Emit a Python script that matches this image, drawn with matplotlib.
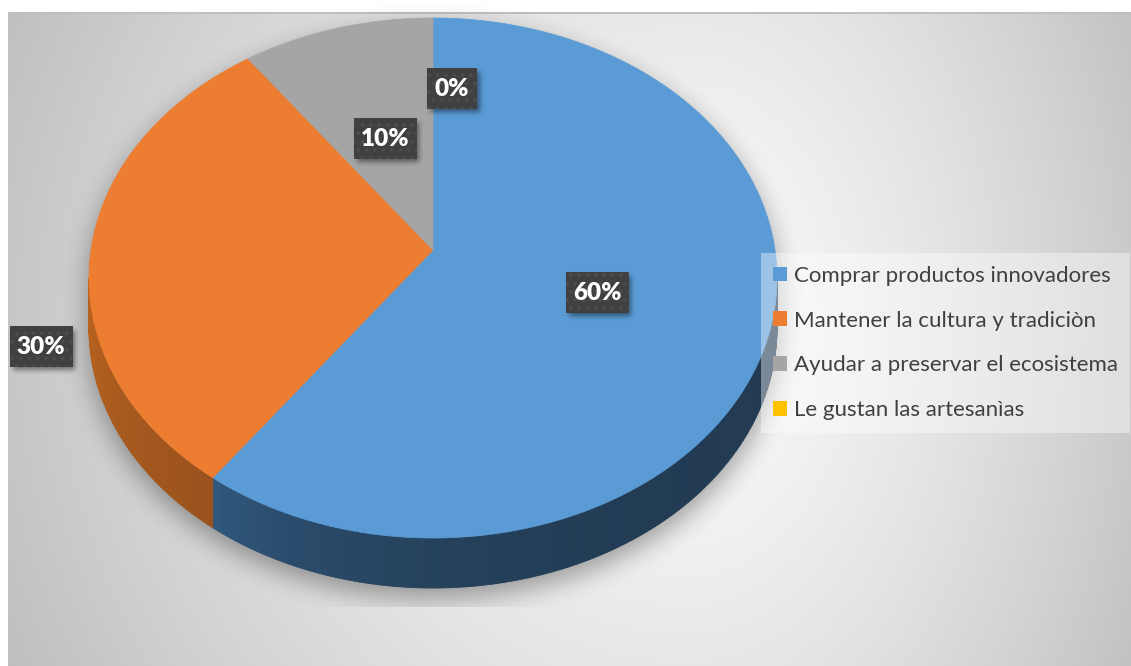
import numpy as np
import matplotlib
matplotlib.use("Agg")
import matplotlib.pyplot as plt
from matplotlib.patches import Polygon, Rectangle, Patch
from matplotlib.path import Path
from matplotlib.colors import to_rgb

plt.rcParams['font.family'] = ['Lato', 'DejaVu Sans']

# survey answers and their shares (%)
categories = ["Comprar productos innovadores",
              "Mantener la cultura y tradiciòn",
              "Ayudar a preservar el ecosistema",
              "Le gustan las artesanìas"]
shares = [60, 30, 10, 0]
top_colors = ['#5b9bd5', '#ed7d31', '#a5a5a5', '#ffc000']
# side wall colours: (dark end, light end)
side_colors = [('#223b53', '#30587d'), ('#9a521d', '#b8631f'),
               ('#5e5e5e', '#6e6e6e'), ('#9a7400', '#b08500')]
# data label boxes (centre x, centre y) in pixels
label_pos = [(597, 292), (41, 346), (385, 138), (452, 88)]

W, H = 1131, 666
CX, CY = 433, 250          # pie apex on screen
RX, RY, PERSP = 342, 257, 0.1077
DEPTH = 50


def project(theta):
    # theta in degrees, clockwise from 12 o'clock on the pie disc
    t = np.radians(theta)
    u = np.sin(t)
    v = -np.cos(t)
    w = 1 - PERSP * v
    return CX + RX * u / w, CY + RY * v / w


def arc(a, b, step=0.5):
    n = max(2, int(abs(b - a) / step) + 1)
    th = np.linspace(a, b, n)
    return project(th)


def box_blur(a, r, passes=3):
    for _ in range(passes):
        for axis in (0, 1):
            a = np.swapaxes(a, 0, axis)
            p = np.pad(a, ((r + 1, r), (0, 0)), mode='edge')
            c = np.cumsum(p, axis=0)
            a = (c[2 * r + 1:] - c[:-(2 * r + 1)]) / (2 * r + 1)
            a = np.swapaxes(a, 0, axis)
    return a


fig = plt.figure(figsize=(W / 100, H / 100), dpi=100)
ax = fig.add_axes([0, 0, 1, 1])
ax.set_xlim(0, W)
ax.set_ylim(H, 0)
ax.axis('off')

yy, xx = np.mgrid[0:H, 0:W] + 0.5

# chart area background: soft radial gradient
gx = np.where(xx < 690, (690 - xx) / 690, (xx - 690) / 470)
gy = (yy - 330) / 700
r = np.sqrt(gx ** 2 + gy ** 2)
grey = np.clip(250 - 52 * r ** 1.4, 190, 252) / 255
bg = np.dstack([grey] * 3)
bg[(xx < 8) | (yy < 12)] = 1.0
bg[(yy >= 12) & (yy < 14) & (xx >= 8)] = 0.75
ax.imshow(bg, extent=(0, W, H, 0), zorder=0, interpolation='nearest')

# soft floor shadow below the pie
lx = 96.2
rim_top = np.array(arc(-lx, lx)).T
rim_low = np.array(arc(lx, 360 - lx)).T + [0, DEPTH]
sil = Path(np.vstack([rim_top, rim_low]))
pts = np.column_stack([xx.ravel(), yy.ravel() - 10])
mask = sil.contains_points(pts).reshape(H, W).astype(float)
shade = box_blur(mask, 12) * 0.36
shade[yy > 607] = 0
sh = np.zeros((H, W, 4))
sh[..., 3] = shade
ax.imshow(sh, extent=(0, W, H, 0), zorder=1, interpolation='nearest')

# slice angles
bounds = np.concatenate([[0], np.cumsum(shares)]) * 3.6

# side walls (only the front half of the rim is visible)
for i in range(len(shares)):
    a, b = bounds[i], bounds[i + 1]
    a, b = max(a, lx), min(b, 360 - lx)
    if b <= a:
        continue
    dark, light = np.array(to_rgb(side_colors[i][0])), np.array(to_rgb(side_colors[i][1]))
    th = np.linspace(a, b, int((b - a) * 2) + 2)
    for k in range(len(th) - 1):
        x0, y0 = project(th[k])
        x1, y1 = project(th[k + 1])
        s = (th[k] - a) / (b - a)
        if i == 0:
            s = s ** 4
        col = dark + (light - dark) * s
        quad = [(x0, y0), (x1, y1), (x1, y1 + DEPTH), (x0, y0 + DEPTH)]
        ax.add_patch(Polygon(quad, closed=True, facecolor=col, edgecolor=col,
                             linewidth=0.6, zorder=2))

# top faces
for i in range(len(shares)):
    a, b = bounds[i], bounds[i + 1]
    if b <= a:
        continue
    x, y = arc(a, b)
    poly = np.vstack([[CX, CY], np.column_stack([x, y])])
    ax.add_patch(Polygon(poly, closed=True, facecolor=top_colors[i],
                         edgecolor=top_colors[i], linewidth=0.5, zorder=3))

# data labels with drop shadow
lab_mask = np.zeros((H, W))
boxes = []
for val, (lxp, lyp) in zip(shares, label_pos):
    txt = f"{val}%"
    bw = 24 + 13 * len(txt)
    bh = 41
    boxes.append((lxp - bw / 2, lyp - bh / 2, bw, bh, txt))
    sel = ((xx > lxp - bw / 2 + 3) & (xx < lxp + bw / 2 + 3) &
           (yy > lyp - bh / 2 + 4) & (yy < lyp + bh / 2 + 4))
    lab_mask[sel] = 1
lab_sh = np.zeros((H, W, 4))
lab_sh[..., 3] = box_blur(lab_mask, 2) * 0.45
ax.imshow(lab_sh, extent=(0, W, H, 0), zorder=4, interpolation='nearest')

plt.rcParams['hatch.linewidth'] = 1.5
for x0, y0, bw, bh, txt in boxes:
    ax.add_patch(Rectangle((x0, y0), bw, bh, facecolor='#404040',
                           edgecolor='#4c4c4c', hatch='..', linewidth=0, zorder=5))
    ax.text(x0 + bw / 2, y0 + bh / 2 + 1, txt, color='white', fontsize=17.5,
            fontweight='heavy', ha='center', va='center', zorder=6)

handles = [Patch(facecolor=c, edgecolor='none') for c in top_colors]
leg = fig.legend(handles=handles, labels=categories, loc='center left',
                 bbox_to_anchor=(761 / W, 1 - 343 / H), frameon=True,
                 fancybox=False, framealpha=0.4, facecolor='white',
                 edgecolor='none', fontsize=16, labelcolor='#404040',
                 handlelength=0.63, handleheight=0.63, handletextpad=0.3,
                 labelspacing=1.12, borderpad=0.55, borderaxespad=0)
leg.set_zorder(7)

fig.savefig("out.png", dpi=100)
